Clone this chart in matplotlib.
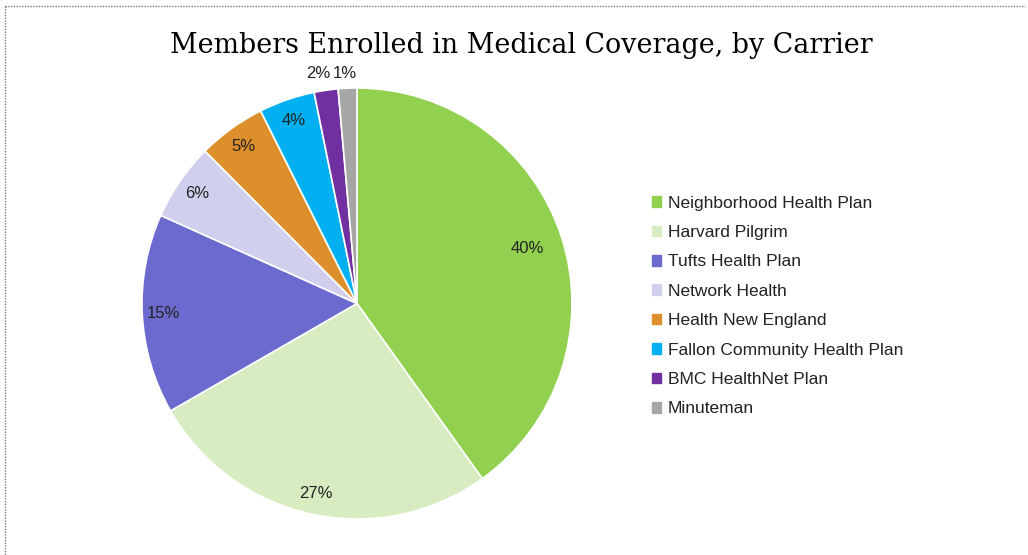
import numpy as np
import matplotlib.pyplot as plt
from matplotlib.lines import Line2D

carriers = ['Neighborhood Health Plan', 'Harvard Pilgrim', 'Tufts Health Plan',
            'Network Health', 'Health New England', 'Fallon Community Health Plan',
            'BMC HealthNet Plan', 'Minuteman']
shares = [40.1, 26.6, 15.0, 5.8, 5.1, 4.2, 1.8, 1.4]
colors = ['#92D050', '#D7ECC1', '#6B6BCF', '#D0D0EE', '#DD8F2B', '#00B0F0',
          '#7030A0', '#A6A6A6']

plt.rcParams['font.family'] = ['Liberation Sans', 'DejaVu Sans']

fig = plt.figure(figsize=(10.28, 5.55), dpi=100)
ax = fig.add_axes([142 / 1028, 1 - 519 / 555, 430 / 1028, 431 / 555])

wedges, texts, autotexts = ax.pie(
    shares, colors=colors, startangle=90, counterclock=False,
    autopct='%.0f%%', pctdistance=0.9,
    wedgeprops=dict(edgecolor='white', linewidth=1.2),
    textprops=dict(fontsize=12, color='#222222'))
ax.set_aspect('auto')
ax.set_xlim(-1, 1)
ax.set_ylim(-1, 1)

# reposition a few labels
for i, (w, t) in enumerate(zip(wedges, autotexts)):
    ang = np.deg2rad((w.theta1 + w.theta2) / 2)
    if i == 0:
        r = 0.83
        t.set_position((r * np.cos(ang), r * np.sin(ang)))
    elif i >= 6:
        t.set_position((1.25 * np.cos(ang), 1.065))

fig.text(521 / 1028, 1 - 45 / 555, 'Members Enrolled in Medical Coverage, by Carrier',
         ha='center', va='center', fontsize=19.4, family='DejaVu Serif')

handles = [plt.Rectangle((0, 0), 1, 1, color=c) for c in colors]
fig.legend(handles, carriers, loc='upper left', bbox_to_anchor=(636 / 1028, 1 - 180 / 555),
           frameon=False, fontsize=12.5, handlelength=0.55, handleheight=0.55,
           handletextpad=0.4, labelspacing=0.83, labelcolor='#222222')

# dotted border
fig.add_artist(Line2D([5 / 1028, 1025 / 1028], [1 - 6 / 555, 1 - 6 / 555],
                      transform=fig.transFigure, color='#777777', lw=1, ls=(0, (1, 1))))
fig.add_artist(Line2D([5 / 1028, 5 / 1028], [1 - 6 / 555, 0],
                      transform=fig.transFigure, color='#777777', lw=1, ls=(0, (1, 1))))

fig.savefig('out.png', dpi=100)
